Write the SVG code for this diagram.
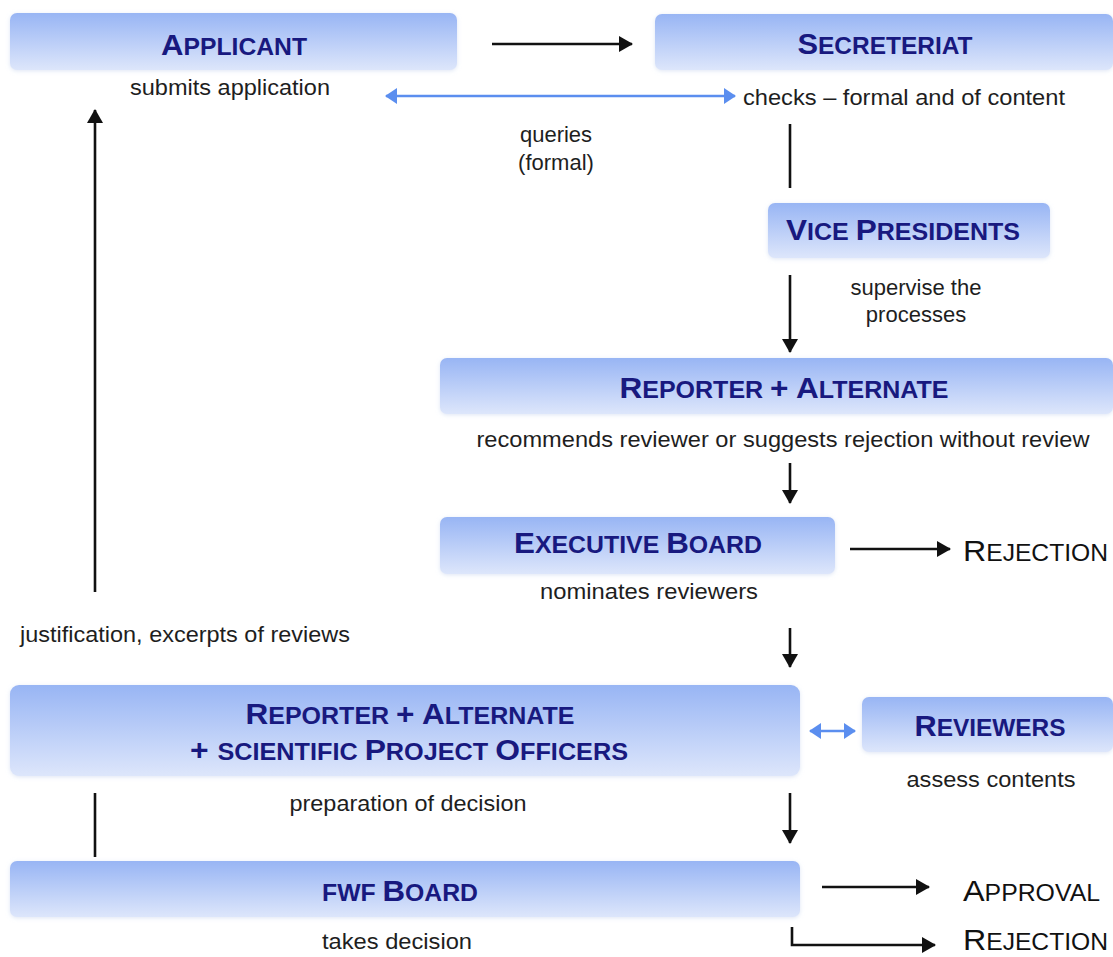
<svg xmlns="http://www.w3.org/2000/svg" width="1113" height="957" viewBox="0 0 1113 957">
<style>
.box{fill:url(#g);filter:url(#sh)}
.h{font-family:"Liberation Sans",Arial,sans-serif;font-weight:bold;fill:#18197f;text-anchor:middle}
.h .b{font-size:29px}
.h .s{font-size:23px}
.t{font-family:"Liberation Sans",Arial,sans-serif;font-size:22px;fill:#1e1e1e;text-anchor:middle}
.o{font-family:"Liberation Sans",Arial,sans-serif;fill:#111}
.o .b{font-size:30px}
.o .s{font-size:23px}
.ln{stroke:#111;stroke-width:2.6;fill:none}
.bl{stroke:#5b8eef;stroke-width:2.6;fill:none}
</style>
<defs>
<linearGradient id="g" x1="0" y1="0" x2="0" y2="1">
<stop offset="0" stop-color="#98b5f4"/>
<stop offset="1" stop-color="#dde6fb"/>
</linearGradient>
<filter id="sh" x="-5%" y="-20%" width="110%" height="140%">
<feGaussianBlur in="SourceAlpha" stdDeviation="2"/>
<feOffset dx="0" dy="1" result="b"/>
<feFlood flood-color="#c8d4ee" flood-opacity="0.6"/>
<feComposite in2="b" operator="in" result="s"/>
<feMerge><feMergeNode in="s"/><feMergeNode in="SourceGraphic"/></feMerge>
</filter>
<marker id="ab" markerWidth="12" markerHeight="16" refX="11" refY="8" orient="auto-start-reverse" markerUnits="userSpaceOnUse" viewBox="0 0 12 16">
<path d="M0,0 L12,8 L0,16 z" fill="#5b8eef"/>
</marker>
<marker id="ak" viewBox="0 0 14 16" markerWidth="14" markerHeight="16" refX="13" refY="8" orient="auto" markerUnits="userSpaceOnUse">
<path d="M0,0 L14,8 L0,16 z" fill="#111"/>
</marker>
</defs>
<rect width="1113" height="957" fill="#fff"/>

<g id="connectors">
<line class="ln" x1="492" y1="44" x2="632" y2="44" marker-end="url(#ak)"/>
<line class="bl" x1="386" y1="96" x2="735" y2="96" marker-start="url(#ab)" marker-end="url(#ab)"/>
<line class="ln" x1="790" y1="124" x2="790" y2="188"/>
<line class="ln" x1="790" y1="275" x2="790" y2="352" marker-end="url(#ak)"/>
<line class="ln" x1="790" y1="463" x2="790" y2="503" marker-end="url(#ak)"/>
<line class="ln" x1="850" y1="549" x2="950" y2="549" marker-end="url(#ak)"/>
<line class="ln" x1="790" y1="628" x2="790" y2="667" marker-end="url(#ak)"/>
<line class="ln" x1="95" y1="592" x2="95" y2="110" marker-end="url(#ak)"/>
<line class="bl" x1="810" y1="731" x2="855" y2="731" marker-start="url(#ab)" marker-end="url(#ab)"/>
<line class="ln" x1="95" y1="793" x2="95" y2="857"/>
<line class="ln" x1="790" y1="793" x2="790" y2="843" marker-end="url(#ak)"/>
<line class="ln" x1="822" y1="887" x2="929" y2="887" marker-end="url(#ak)"/>
<polyline class="ln" points="792,927 792,945 935,945" marker-end="url(#ak)"/>
</g>

<g id="applicant">
<rect class="box" x="10" y="13" width="447" height="57" rx="7"/>
<text class="h" x="234" y="55" textLength="146" lengthAdjust="spacingAndGlyphs"><tspan class="b">A</tspan><tspan class="s">PPLICANT</tspan></text>
<text class="t" x="230" y="95" textLength="200" lengthAdjust="spacingAndGlyphs">submits application</text>
</g>

<g id="secreteriat">
<rect class="box" x="655" y="14" width="458" height="56" rx="7"/>
<text class="h" x="885" y="54" textLength="175" lengthAdjust="spacingAndGlyphs"><tspan class="b">S</tspan><tspan class="s">ECRETERIAT</tspan></text>
<text class="t" x="904" y="105" textLength="322" lengthAdjust="spacingAndGlyphs">checks – formal and of content</text>
</g>

<g id="queries">
<text class="t" x="556" y="142">queries</text>
<text class="t" x="556" y="170">(formal)</text>
</g>

<g id="vice-presidents">
<rect class="box" x="768" y="203" width="282" height="55" rx="7"/>
<text class="h" x="903" y="240" textLength="234" lengthAdjust="spacingAndGlyphs"><tspan class="b">V</tspan><tspan class="s">ICE </tspan><tspan class="b">P</tspan><tspan class="s">RESIDENTS</tspan></text>
<text class="t" x="916" y="295">supervise the</text>
<text class="t" x="916" y="322">processes</text>
</g>

<g id="reporter-alternate">
<rect class="box" x="440" y="358" width="673" height="56" rx="7"/>
<text class="h" x="784" y="398" textLength="329" lengthAdjust="spacingAndGlyphs"><tspan class="b">R</tspan><tspan class="s">EPORTER </tspan><tspan class="b">+ A</tspan><tspan class="s">LTERNATE</tspan></text>
<text class="t" x="783" y="447" textLength="613" lengthAdjust="spacingAndGlyphs">recommends reviewer or suggests rejection without review</text>
</g>

<g id="executive-board">
<rect class="box" x="440" y="517" width="395" height="57" rx="7"/>
<text class="h" x="638" y="553" textLength="248" lengthAdjust="spacingAndGlyphs"><tspan class="b">E</tspan><tspan class="s">XECUTIVE </tspan><tspan class="b">B</tspan><tspan class="s">OARD</tspan></text>
<text class="t" x="649" y="599" textLength="218" lengthAdjust="spacingAndGlyphs">nominates reviewers</text>
</g>

<g id="rejection-1">
<text class="o" x="963" y="561" textLength="145" lengthAdjust="spacingAndGlyphs"><tspan class="b">R</tspan><tspan class="s">EJECTION</tspan></text>
</g>

<g id="justification">
<text class="t" x="185" y="642" textLength="330" lengthAdjust="spacingAndGlyphs">justification, excerpts of reviews</text>
</g>

<g id="reporter-officers">
<rect class="box" x="10" y="685" width="790" height="91" rx="9"/>
<text class="h" x="410" y="724" textLength="329" lengthAdjust="spacingAndGlyphs"><tspan class="b">R</tspan><tspan class="s">EPORTER </tspan><tspan class="b">+ A</tspan><tspan class="s">LTERNATE</tspan></text>
<text class="h" x="409" y="760" textLength="438" lengthAdjust="spacingAndGlyphs"><tspan class="b">+ </tspan><tspan class="s">SCIENTIFIC </tspan><tspan class="b">P</tspan><tspan class="s">ROJECT </tspan><tspan class="b">O</tspan><tspan class="s">FFICERS</tspan></text>
<text class="t" x="408" y="811" textLength="237" lengthAdjust="spacingAndGlyphs">preparation of decision</text>
</g>

<g id="reviewers">
<rect class="box" x="862" y="697" width="251" height="55" rx="7"/>
<text class="h" x="990" y="736" textLength="151" lengthAdjust="spacingAndGlyphs"><tspan class="b">R</tspan><tspan class="s">EVIEWERS</tspan></text>
<text class="t" x="991" y="787" textLength="169" lengthAdjust="spacingAndGlyphs">assess contents</text>
</g>

<g id="fwf-board">
<rect class="box" x="10" y="861" width="790" height="56" rx="7"/>
<text class="h" x="400" y="901" textLength="156" lengthAdjust="spacingAndGlyphs"><tspan class="s">FWF </tspan><tspan class="b">B</tspan><tspan class="s">OARD</tspan></text>
<text class="t" x="397" y="949" textLength="150" lengthAdjust="spacingAndGlyphs">takes decision</text>
</g>

<g id="approval">
<text class="o" x="963" y="901" textLength="137" lengthAdjust="spacingAndGlyphs"><tspan class="b">A</tspan><tspan class="s">PPROVAL</tspan></text>
</g>

<g id="rejection-2">
<text class="o" x="963" y="950" textLength="145" lengthAdjust="spacingAndGlyphs"><tspan class="b" font-size="28px">R</tspan><tspan class="s" font-size="22px">EJECTION</tspan></text>
</g>
</svg>
